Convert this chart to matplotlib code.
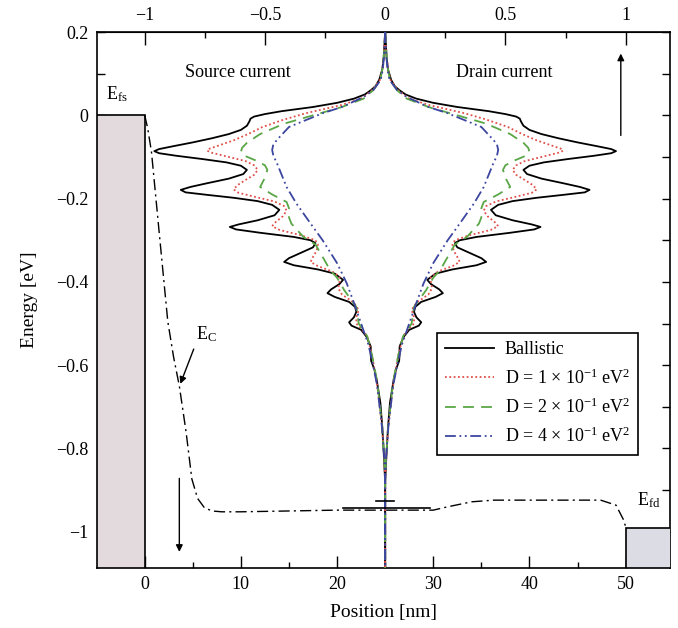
import matplotlib
matplotlib.use("Agg")
import matplotlib.pyplot as plt
from matplotlib.patches import Rectangle
from matplotlib.ticker import MultipleLocator, FixedLocator, FuncFormatter

plt.rcParams['font.family'] = ['Liberation Serif', 'DejaVu Serif']
plt.rcParams['mathtext.fontset'] = 'custom'
plt.rcParams['mathtext.rm'] = 'Liberation Serif'
plt.rcParams['mathtext.it'] = 'Liberation Serif:italic'

# drain-side current spectra (source side is the mirror image)
e_ball = [0.2, 0.17, 0.14, 0.11, 0.085, 0.07, 0.06, 0.05, 0.04, 0.03, 0.02, 0.01,
          0.003, -0.003, -0.008, -0.015, -0.025, -0.035, -0.045, -0.055, -0.065,
          -0.074, -0.081, -0.086, -0.091, -0.097, -0.105, -0.113, -0.121, -0.131,
          -0.141, -0.152, -0.163, -0.172, -0.179, -0.185, -0.191, -0.198, -0.206,
          -0.215, -0.227, -0.24, -0.252, -0.262, -0.268, -0.274, -0.282, -0.292,
          -0.3, -0.307, -0.317, -0.33, -0.343, -0.352, -0.36, -0.37, -0.38,
          -0.395, -0.405, -0.418, -0.427, -0.436, -0.448, -0.46, -0.472, -0.485,
          -0.497, -0.505, -0.515, -0.532, -0.555, -0.575, -0.59, -0.61, -0.636,
          -0.69, -0.748, -0.82, -0.88, -1.087]
i_ball = [0.0, 0.003, 0.006, 0.012, 0.025, 0.04, 0.06, 0.085, 0.13, 0.2, 0.3, 0.43,
          0.50, 0.545, 0.56, 0.565, 0.575, 0.60, 0.65, 0.72, 0.80,
          0.88, 0.94, 0.96, 0.94, 0.87, 0.76, 0.66, 0.60, 0.575,
          0.59, 0.65, 0.74, 0.81, 0.85, 0.83, 0.74, 0.63, 0.53,
          0.47, 0.44, 0.46, 0.53, 0.61, 0.646, 0.62, 0.52, 0.38,
          0.31, 0.29, 0.30, 0.35, 0.40, 0.42, 0.38, 0.28, 0.21,
          0.175, 0.19, 0.225, 0.24, 0.21, 0.15, 0.125, 0.12, 0.13,
          0.15, 0.14, 0.10, 0.077, 0.06, 0.06, 0.058, 0.045, 0.035,
          0.02, 0.012, 0.005, 0.0, 0.0]

e_d1 = [0.2, 0.14, 0.11, 0.085, 0.06, 0.04, 0.025, 0.005, -0.01, -0.028, -0.045,
        -0.06, -0.072, -0.08, -0.085, -0.09, -0.1, -0.11, -0.12, -0.131, -0.143,
        -0.155, -0.168, -0.178, -0.186, -0.196, -0.207, -0.218, -0.229, -0.242,
        -0.256, -0.266, -0.275, -0.288, -0.3, -0.31, -0.325, -0.34, -0.352,
        -0.362, -0.375, -0.388, -0.40, -0.415, -0.43, -0.45, -0.467, -0.485,
        -0.5, -0.515, -0.53, -0.575, -0.64, -0.75, -0.82, -0.88, -1.087]
i_d1 = [0.0, 0.006, 0.012, 0.022, 0.055, 0.10, 0.18, 0.33, 0.42, 0.51, 0.57,
        0.63, 0.69, 0.73, 0.74, 0.72, 0.65, 0.58, 0.545, 0.53, 0.545,
        0.58, 0.615, 0.63, 0.61, 0.54, 0.46, 0.42, 0.41, 0.425,
        0.455, 0.47, 0.44, 0.35, 0.29, 0.28, 0.285, 0.30, 0.31,
        0.28, 0.22, 0.19, 0.19, 0.195, 0.18, 0.13, 0.11, 0.12,
        0.12, 0.095, 0.075, 0.055, 0.035, 0.012, 0.005, 0.0, 0.0]

e_d2 = [0.2, 0.14, 0.11, 0.085, 0.06, 0.04, 0.02, 0.0, -0.02, -0.045, -0.066,
        -0.078, -0.088, -0.097, -0.108, -0.12, -0.131, -0.15, -0.172, -0.19,
        -0.208, -0.223, -0.245, -0.26, -0.292, -0.31, -0.33, -0.35, -0.371,
        -0.39, -0.42, -0.46, -0.5, -0.53, -0.575, -0.64, -0.75, -0.82, -0.88,
        -1.087]
i_d2 = [0.0, 0.006, 0.012, 0.02, 0.05, 0.09, 0.18, 0.30, 0.42, 0.52, 0.575,
        0.595, 0.60, 0.585, 0.54, 0.50, 0.49, 0.50, 0.52, 0.47,
        0.41, 0.40, 0.40, 0.39, 0.34, 0.29, 0.27, 0.25, 0.23,
        0.20, 0.17, 0.12, 0.11, 0.075, 0.055, 0.033, 0.012, 0.004, 0.0,
        0.0]

e_d4 = [0.2, 0.14, 0.11, 0.085, 0.06, 0.044, 0.02, 0.005, -0.028, -0.059, -0.07,
        -0.083, -0.097, -0.115, -0.172, -0.211, -0.26, -0.30, -0.355, -0.403,
        -0.45, -0.5, -0.55, -0.6, -0.65, -0.75, -0.82, -0.88, -1.087]
i_d4 = [0.0, 0.005, 0.01, 0.018, 0.05, 0.09, 0.18, 0.26, 0.40, 0.45, 0.465,
        0.47, 0.465, 0.45, 0.41, 0.37, 0.31, 0.26, 0.20, 0.16,
        0.13, 0.10, 0.07, 0.05, 0.033, 0.013, 0.004, 0.0, 0.0]

# conduction band edge along the device
ec_pos = [0.0, 0.3, 0.7, 1.5, 2.4, 3.0, 3.6, 4.3, 4.9, 5.5, 6.2, 7.0, 8.0, 10,
          15, 20, 25, 30, 31.5, 34, 36.3, 41, 47.4, 49, 49.8, 50]
ec_e = [0.0, -0.03, -0.087, -0.28, -0.495, -0.58, -0.65, -0.76, -0.873, -0.92,
        -0.942, -0.95, -0.952, -0.952, -0.95, -0.948, -0.948, -0.948, -0.94,
        -0.928, -0.924, -0.924, -0.924, -0.936, -0.972, -0.988]

mu_s = 0.0
mu_d = -0.99

series = [
    ("Ballistic", e_ball, i_ball, "black", "-"),
    (r"D = 1 × 10$^{-1}$ eV$^{2}$", e_d1, i_d1, "#e0504a", (0, (1, 1.4))),
    (r"D = 2 × 10$^{-1}$ eV$^{2}$", e_d2, i_d2, "#5aa646", (0, (6, 4))),
    (r"D = 4 × 10$^{-1}$ eV$^{2}$", e_d4, i_d4, "#3c46a0", (0, (6, 2, 1, 2, 1, 2))),
]

fig = plt.figure(figsize=(6.78, 6.28), dpi=100)
ax = fig.add_axes([0.1425, 0.0955, 0.8455, 0.8535])

x_lo, x_hi = -5, 54.6
y_lo, y_hi = -1.087, 0.2

def to_pos(i):
    return 25 + 25 * i

def to_cur(x):
    return (x - 25) / 25

def signed(v, p):
    if abs(v) < 1e-9:
        return "0"
    return ("\u2212" if v < 0 else "") + f"{abs(v):g}"

# contact reservoirs
ax.add_patch(Rectangle((x_lo, y_lo), 0 - x_lo, mu_s - y_lo, facecolor="#e2dadd",
                       edgecolor="black", lw=1.2, zorder=3))
ax.add_patch(Rectangle((50, y_lo), 5, mu_d - y_lo, facecolor="#dcdce4",
                       edgecolor="black", lw=1.2, zorder=3))

for label, e, cur, col, ls in series:
    ax.plot([to_pos(c) for c in cur], e, color=col, ls=ls, lw=1.3, label=label, zorder=4)
    ax.plot([to_pos(-c) for c in cur], e, color=col, ls=ls, lw=1.3, zorder=4)

ax.plot(ec_pos, ec_e, color="black", ls=(0, (8, 3, 1.5, 3)), lw=1.0, zorder=4)
ax.plot([20.6, 29.7], [-0.944, -0.944], color="black", lw=1.2, zorder=4)
ax.plot([24.0, 25.9], [-0.926, -0.926], color="black", lw=1.2, zorder=4)

# annotations
arr = dict(arrowstyle="-|>", color="black", lw=1.0, mutation_scale=10)
ax.annotate("", xy=(49.5, 0.155), xytext=(49.5, -0.055), arrowprops=arr)
ax.annotate("", xy=(3.6, -1.055), xytext=(3.6, -0.865), arrowprops=arr)
ax.annotate("", xy=(3.6, -0.651), xytext=(5.2, -0.555), arrowprops=arr)
ax.text(6.4, -0.525, r"E$_\mathrm{C}$", fontsize=13, ha="center", va="center")
ax.text(-4.0, 0.052, r"E$_\mathrm{fs}$", fontsize=13, ha="left", va="center")
ax.text(51.2, -0.924, r"E$_\mathrm{fd}$", fontsize=13, ha="left", va="center")
ax.text(9.7, 0.104, "Source current", fontsize=13, ha="center", va="center")
ax.text(37.4, 0.104, "Drain current", fontsize=13, ha="center", va="center")

ax.set_xlim(x_lo, x_hi)
ax.set_ylim(y_lo, y_hi)

ax.xaxis.set_major_locator(FixedLocator([0, 10, 20, 30, 40, 50]))
ax.xaxis.set_minor_locator(FixedLocator([5, 15, 25, 35, 45]))
ax.yaxis.set_major_locator(MultipleLocator(0.2))
ax.yaxis.set_minor_locator(MultipleLocator(0.1))
ax.tick_params(axis="x", which="major", direction="in", length=9, width=1,
               labelsize=13, top=False, pad=6)
ax.tick_params(axis="x", which="minor", direction="in", length=4.5, width=1, top=False)
ax.tick_params(axis="y", which="both", direction="in", length=6, width=1,
               labelsize=13, right=True, pad=6)
ax.yaxis.set_major_formatter(FuncFormatter(signed))

top = ax.secondary_xaxis("top", functions=(to_cur, to_pos))
top.xaxis.set_major_locator(FixedLocator([-1, -0.5, 0, 0.5, 1]))
top.xaxis.set_minor_locator(FixedLocator([-0.75, -0.25, 0.25, 0.75]))
top.xaxis.set_major_formatter(FuncFormatter(signed))
top.tick_params(which="major", direction="in", length=9, width=1, labelsize=13, pad=6)
top.tick_params(which="minor", direction="in", length=4.5, width=1)

for s in ax.spines.values():
    s.set_linewidth(1.2)

ax.set_xlabel("Position [nm]", fontsize=14, labelpad=8)
ax.set_ylabel("Energy [eV]", fontsize=14, labelpad=13)

leg = ax.legend(loc="upper left", bbox_to_anchor=(0.594, 0.438), fontsize=13,
                frameon=True, fancybox=False, edgecolor="black", framealpha=1,
                handlelength=2.7, borderpad=0.45, labelspacing=0.55,
                handletextpad=0.6, borderaxespad=0)
leg.get_frame().set_linewidth(1.2)
leg.set_zorder(6)

fig.savefig("out.png", dpi=100)
